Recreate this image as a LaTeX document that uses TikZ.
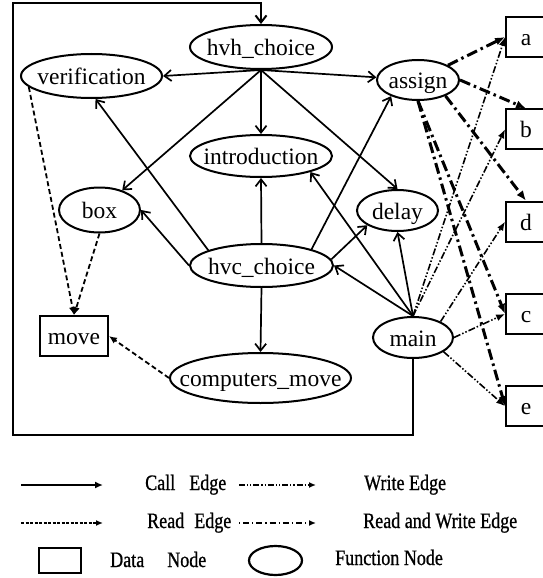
\documentclass[tikz,border=0pt]{standalone}
\usepackage{fontspec}
\setmainfont{Liberation Serif}
\newfontfamily\legfont[FakeStretch=0.82,FakeBold=0.8]{Liberation Serif}
\usetikzlibrary{arrows.meta,shapes.geometric,positioning}
\tikzset{
  fnnode/.style={ellipse, draw, line width=2pt, inner sep=0pt, minimum width=#1,
                 minimum height=43pt, font=\fontsize{23.5pt}{28pt}\selectfont,
                 text height=17pt, text depth=0pt,
                 execute at begin node={\hbox to 0pt\bgroup\hss},
                 execute at end node={\hss\egroup}},
  fnnode/.default=142pt,
  datnode/.style={rectangle, draw, line width=1.8pt, inner sep=0pt, minimum width=#1,
                  minimum height=40pt, font=\fontsize{23.5pt}{28pt}\selectfont,
                  text height=17pt, text depth=0pt},
  datnode/.default=40pt,
  call/.style={line width=1.7pt, -{Straight Barb[length=7pt,width=11pt]}},
  rd/.style={line width=1.8pt, dash pattern=on 5pt off 3pt, -{Latex[length=8pt,width=7pt]}},
  wr/.style={line width=1.6pt, dash pattern=on 7pt off 2pt on 1.5pt off 2pt on 1.5pt off 2pt,
             -{Latex[length=9pt,width=7pt]}},
  rw/.style={line width=3pt, dash pattern=on 11pt off 4pt on 2.5pt off 4pt,
             -{Latex[length=10pt,width=8pt]}}
}

\begin{document}
\begin{tikzpicture}[
  x=1pt, y=-1pt,
  lgtext/.style={font=\legfont\fontsize{22pt}{26pt}\selectfont, inner sep=0pt, anchor=base west},
  lgline/.style={line width=1.4pt, -{Latex[length=7pt,width=6pt]}}
]
\useasboundingbox (0,0) rectangle (543,578);
% ---- function nodes ----
\node[fnnode, minimum height=44pt] (hvh) at (261,47) {hvh\_choice};
\node[fnnode=141pt, minimum height=44pt] (verif) at (91.5,76) {verification};
\node[fnnode=82pt, minimum height=40pt] (assign) at (418,80) {assign};
\node[fnnode, minimum height=42pt] (intro) at (261,156) {introduction};
\node[fnnode=81pt, minimum height=45pt] (box) at (99.5,210) {box};
\node[fnnode=81pt, minimum height=41pt] (delay) at (397.5,210.5) {delay};
\node[fnnode=143pt] (hvc) at (261.5,265.5) {hvc\_choice};
\node[fnnode=80pt, minimum height=41pt] (main) at (413,337.5) {main};
\node[fnnode=181pt, minimum height=50pt] (cmove) at (260.5,378) {computers\_move};
% ---- data nodes ----
\node[datnode=68pt] (move) at (74,336) {move};
\node[datnode] (a) at (526,37) {a};
\node[datnode, below=50.5pt of a] (b) {b};
\node[datnode, below=50.5pt of b] (d) {d};
\node[datnode, below=50.5pt of d] (c) {c};
\node[datnode, below=50.5pt of c] (e) {e};
% ---- call edges ----
\draw[call] (hvh.south) -- (verif.east);
\draw[call] (hvh.south) -- (box);
\draw[call] (hvh.south) -- (intro.north);
\draw[call] (hvh.south) -- (assign);
\draw[call] (hvh.south) -- (delay.north);
\draw[call] (hvc.164) -- (verif.280);
\draw[call] (hvc.west) -- (box.east);
\draw[call] (hvc.north) -- (intro.south);
\draw[call] (hvc.18) -- (assign.211);
\draw[call] (hvc.5) -- (delay.206);
\draw[call] (hvc.south) -- (cmove.north);
\draw[call] (main.north) -- (hvc.east);
\draw[call] (main.north) -- (intro.342);
\draw[call] (main.north) -- (delay.south);
\coordinate (fbl) at (13,435);
\coordinate (ftl) at (13,3);
\draw[call, line width=2pt] (main.south) |- (fbl) -- (ftl) -| (hvh.north);
% ---- read edges ----
\draw[rd] (verif.190) -- (move.north);
\draw[rd] (box.south) -- (move.north);
\draw[rd] (cmove.west) -- (move.east);
% ---- write edges ----
\draw[wr] (main.north) -- (a.west);
\draw[wr] (main.north) -- (b.west);
\draw[wr] (main.30) -- (d.west);
\draw[wr] (main.east) -- (c.west);
\draw[wr] (main.-25) -- (e.west);
% ---- read and write edges ----
\draw[rw] (assign) -- (a.west);
\draw[rw] (assign.east) -- (b.north);
\draw[rw] (assign.-30) -- (d.north);
\draw[rw] (assign.south) -- (c.west);
\draw[rw] (assign.south) -- (e.west);
% ---- legend ----
\coordinate (lc1) at (21,485);  \coordinate (lc2) at (103,485);
\coordinate (lw1) at (239,485); \coordinate (lw2) at (316,485);
\coordinate (lr1) at (21,523);  \coordinate (lr2) at (103,523);
\coordinate (lb1) at (239,523); \coordinate (lb2) at (316,523);
\draw[lgline, line width=2.6pt, -{Latex[length=8pt,width=7pt]}] (lc1) -- (lc2);
\draw[lgline, dash pattern=on 6pt off 2pt on 1.2pt off 2pt on 1.2pt off 2pt] (lw1) -- (lw2);
\draw[lgline, dash pattern=on 3pt off 1.5pt] (lr1) -- (lr2);
\draw[lgline, dash pattern=on 1.2pt off 3pt on 6pt off 3pt] (lb1) -- (lb2);
\node[lgtext] (tcall) at (145,490) {Call\hspace{14pt}Edge};
\node[lgtext] (twrite) at (364,490) {Write Edge};
\node[lgtext] (tread) at (147,528) {Read\hspace{10pt}Edge};
\node[lgtext] (trw) at (363,528) {Read and Write Edge};
\node[draw, line width=1.8pt, minimum width=42pt, minimum height=25pt] (ldat) at (60,560.5) {};
\node[ellipse, draw, line width=2.2pt, minimum width=53pt, minimum height=29pt] (lfn) at (275.5,560.5) {};
\node[lgtext] (tdat) at (110,567) {Data\hspace{23pt}Node};
\node[lgtext] (tfn) at (335,565) {Function Node};
\end{tikzpicture}
\end{document}
